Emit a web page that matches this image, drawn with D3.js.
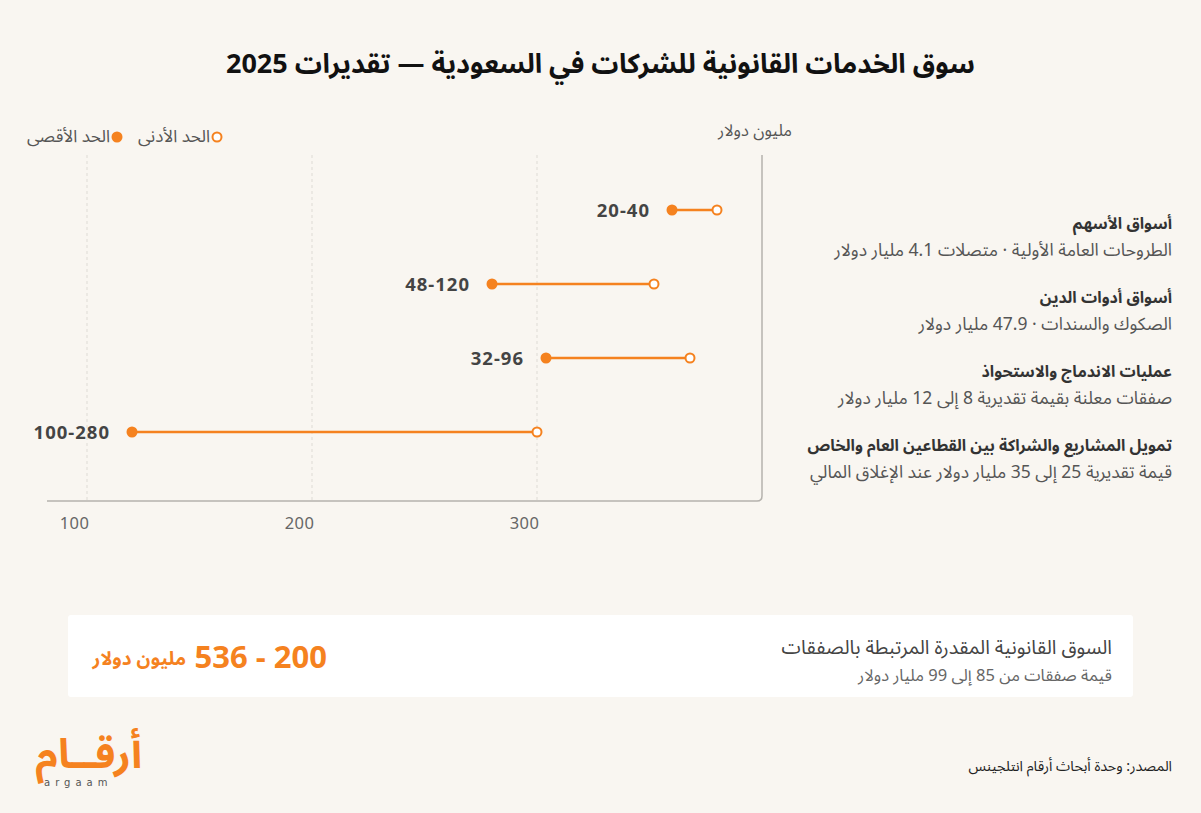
<!DOCTYPE html>
<html lang="ar">
<head>
<meta charset="utf-8">
<script src="https://cdn.jsdelivr.net/npm/d3@7/dist/d3.min.js"></script>
<style>
  html, body { margin: 0; padding: 0; background: #f9f6f1; }
  svg { display: block; }
  text { font-family: "Noto Sans Arabic", "Noto Sans", "DejaVu Sans", sans-serif; }
</style>
</head>
<body>
<svg id="chart" width="1201" height="813"></svg>
<script>
// ---- data ----
const categories = [
  "أسواق الأسهم",
  "أسواق أدوات الدين",
  "عمليات الاندماج والاستحواذ",
  "تمويل المشاريع والشراكة بين القطاعين العام والخاص"
];
const subtitles = [
  "الطروحات العامة الأولية · متصلات 4.1 مليار دولار",
  "الصكوك والسندات · 47.9 مليار دولار",
  "صفقات معلنة بقيمة تقديرية 8 إلى 12 مليار دولار",
  "قيمة تقديرية 25 إلى 35 مليار دولار عند الإغلاق المالي"
];
const minValues = [20, 48, 32, 100];
const maxValues = [40, 120, 96, 280];
const tickValues = [300, 200, 100];          // gridline positions, left to right
const tickLabels = ["100", "200", "300"];    // labels as printed, left to right

const titleText = "سوق الخدمات القانونية للشركات في السعودية — تقديرات 2025";
const unitText = "مليون دولار";
const legendMin = "الحد الأدنى";
const legendMax = "الحد الأقصى";
const totalTitle = "السوق القانونية المقدرة المرتبطة بالصفقات";
const totalSub = "قيمة صفقات من 85 إلى 99 مليار دولار";
const totalRange = "200 - 536";
const totalUnit = "مليون دولار";
const sourceText = "المصدر: وحدة أبحاث أرقام انتلجينس";

// ---- layout ----
const orange = "#f5821f";
const svg = d3.select("#chart");
const W = 1201;
const latin = "\"Noto Sans\", \"DejaVu Sans\", sans-serif";

const plotLeft = 47, plotRight = 762, plotTop = 155, plotBottom = 501;
const x = d3.scaleLinear().domain([0, 300]).range([plotRight, 87]);
const y = d3.scalePoint().domain(categories).range([210, 432]);

// title
svg.append("text")
  .attr("x", W / 2).attr("y", 73)
  .attr("text-anchor", "middle")
  .attr("font-size", 27).attr("font-weight", 700).attr("fill", "#111")
  .attr("direction", "rtl")
  .text(titleText);

// legend
const lg = svg.append("g");
lg.append("circle").attr("cx", 217).attr("cy", 137).attr("r", 4.5)
  .attr("fill", "#fff").attr("stroke", orange).attr("stroke-width", 2);
lg.append("text").attr("x", 210).attr("y", 142).attr("direction", "rtl").attr("text-anchor", "start")
  .attr("font-size", 17).attr("fill", "#555").text(legendMin);
lg.append("circle").attr("cx", 117).attr("cy", 137).attr("r", 5.5).attr("fill", orange);
lg.append("text").attr("x", 110).attr("y", 142).attr("direction", "rtl").attr("text-anchor", "start")
  .attr("font-size", 17).attr("fill", "#555").text(legendMax);

// unit label
svg.append("text").attr("x", 792).attr("y", 136).attr("direction", "rtl").attr("text-anchor", "start")
  .attr("font-size", 16.5).attr("fill", "#555").text(unitText);

// gridlines
svg.append("g").selectAll("line").data(tickValues).join("line")
  .attr("x1", d => x(d)).attr("x2", d => x(d))
  .attr("y1", plotTop).attr("y2", plotBottom)
  .attr("stroke", "#dedbd5").attr("stroke-width", 1).attr("stroke-dasharray", "3,3");

// axis frame (bottom + right with rounded corner)
const r = 5;
svg.append("path")
  .attr("d", `M${plotLeft},${plotBottom} H${plotRight - r} Q${plotRight},${plotBottom} ${plotRight},${plotBottom - r} V${plotTop}`)
  .attr("fill", "none").attr("stroke", "#b5b2ad").attr("stroke-width", 1.5);

// tick labels via axis
const axis = d3.axisBottom(x).tickValues(tickValues).tickSize(0)
  .tickFormat((d, i) => tickLabels[i]);
const axG = svg.append("g").attr("transform", `translate(0,${plotBottom + 13})`).call(axis);
axG.select(".domain").remove();
axG.selectAll("text")
  .attr("text-anchor", "end").attr("dx", "2")
  .attr("font-size", 16.5).attr("fill", "#666").attr("letter-spacing", 0.5)
  .style("font-family", latin);

// dumbbells
const rows = categories.map((c, i) => ({ c, sub: subtitles[i], min: minValues[i], max: maxValues[i] }));
const g = svg.append("g");
g.selectAll("line.bar").data(rows).join("line").attr("class", "bar")
  .attr("x1", d => x(d.max)).attr("x2", d => x(d.min))
  .attr("y1", d => y(d.c)).attr("y2", d => y(d.c))
  .attr("stroke", orange).attr("stroke-width", 2.5);
g.selectAll("circle.mx").data(rows).join("circle").attr("class", "mx")
  .attr("cx", d => x(d.max)).attr("cy", d => y(d.c)).attr("r", 5.5).attr("fill", orange);
g.selectAll("circle.mn").data(rows).join("circle").attr("class", "mn")
  .attr("cx", d => x(d.min)).attr("cy", d => y(d.c)).attr("r", 4.5)
  .attr("fill", "#fff").attr("stroke", orange).attr("stroke-width", 2);
g.selectAll("text.val").data(rows).join("text").attr("class", "val")
  .attr("x", d => x(d.max) - 22).attr("y", d => y(d.c) + 7)
  .attr("text-anchor", "end").attr("font-size", 18.5).attr("font-weight", 700).attr("fill", "#444")
  .attr("letter-spacing", 1)
  .style("font-family", latin)
  .text(d => `${d.min}-${d.max}`);

// category labels
const lab = svg.append("g");
lab.selectAll("text.cat").data(rows).join("text").attr("class", "cat")
  .attr("x", 1172).attr("y", d => y(d.c) + 19)
  .attr("direction", "rtl").attr("text-anchor", "start")
  .attr("font-size", 16).attr("font-weight", 700).attr("fill", "#333")
  .text(d => d.c);
lab.selectAll("text.sub").data(rows).join("text").attr("class", "sub")
  .attr("x", 1172).attr("y", d => y(d.c) + 46)
  .attr("direction", "rtl").attr("text-anchor", "start")
  .attr("font-size", 17.5).attr("fill", "#555")
  .text(d => d.sub);

// total panel
svg.append("rect").attr("x", 68).attr("y", 615).attr("width", 1065).attr("height", 82)
  .attr("rx", 3).attr("fill", "#fff");
svg.append("text").attr("x", 1112).attr("y", 654).attr("direction", "rtl").attr("text-anchor", "start")
  .attr("font-size", 19.5).attr("fill", "#444").text(totalTitle);
svg.append("text").attr("x", 1112).attr("y", 681).attr("direction", "rtl").attr("text-anchor", "start")
  .attr("font-size", 16.5).attr("fill", "#666").text(totalSub);
svg.append("text").attr("x", 327).attr("y", 668).attr("direction", "rtl").attr("text-anchor", "start")
  .attr("font-size", 31).attr("font-weight", 700).attr("fill", orange).text(totalRange);
svg.append("text").attr("x", 186).attr("y", 665).attr("direction", "rtl").attr("text-anchor", "start")
  .attr("font-size", 19).attr("font-weight", 700).attr("fill", orange).text(totalUnit);

// logo
svg.append("text").attr("x", 142).attr("y", 768).attr("direction", "rtl").attr("text-anchor", "start")
  .attr("font-size", 41).attr("font-weight", 700).attr("fill", orange).text("أرقــام");
svg.append("text").attr("x", 44).attr("y", 786)
  .attr("font-size", 10).attr("letter-spacing", 5).attr("fill", "#555")
  .style("font-family", "\"DejaVu Sans\", sans-serif").text("argaam");

// source
svg.append("text").attr("x", 1172).attr("y", 771).attr("direction", "rtl").attr("text-anchor", "start")
  .attr("font-size", 14.3).attr("fill", "#222").text(sourceText);
</script>
</body>
</html>
